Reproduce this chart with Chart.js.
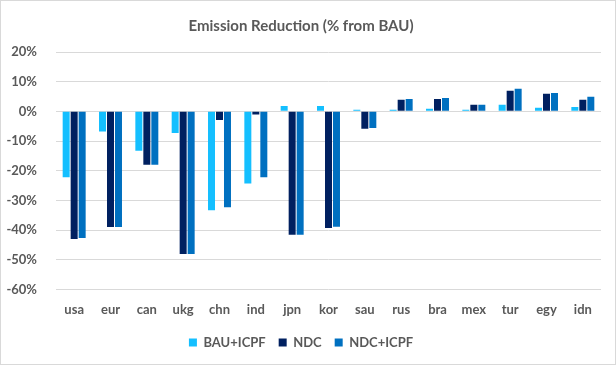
<!DOCTYPE html>
<html>
<head>
<meta charset="utf-8">
<script src="https://cdn.jsdelivr.net/npm/chart.js@4.4.1/dist/chart.umd.min.js"></script>
<style>
  body { margin: 0; background: #fff; }
  #wrap { width: 614px; height: 363px; border: 1px solid #d9d9d9; }
</style>
</head>
<body>
<div id="wrap"><canvas id="emissionChart" width="614" height="363"></canvas></div>
<script>
const countries = ['usa', 'eur', 'can', 'ukg', 'chn', 'ind', 'jpn', 'kor', 'sau', 'rus', 'bra', 'mex', 'tur', 'egy', 'idn']
const bauIcpf = [-22.2, -6.8, -13.3, -7.3, -33.3, -24.3, 1.8, 1.8, 0.5, 0.5, 0.9, 0.5, 2.2, 1.2, 1.5]
const ndc = [-43.0, -39.0, -18.0, -48.1, -2.9, -1.1, -41.6, -39.3, -5.9, 3.9, 4.2, 2.2, 6.9, 5.9, 3.9]
const ndcIcpf = [-42.7, -39.0, -18.0, -48.1, -32.3, -22.2, -41.6, -38.9, -5.6, 4.2, 4.5, 2.2, 7.6, 6.2, 4.9]

const textColor = '#595959'
const fontFamily = 'Lato, "Open Sans", sans-serif'

const chartData = {
    labels: countries,
    datasets: [{
        label: 'BAU+ICPF',
        backgroundColor: '#14bfff',
        data: bauIcpf
    }, {
        label: 'NDC',
        backgroundColor: '#002060',
        data: ndc
    }, {
        label: 'NDC+ICPF',
        backgroundColor: '#0070c0',
        data: ndcIcpf
    }]
}

const chartOptions = {
    responsive: false,
    animation: false,
    layout: {
        padding: { left: 0, right: 14, top: 0, bottom: 5 }
    },
    datasets: {
        bar: {
            categoryPercentage: 0.66,
            barPercentage: 0.875
        }
    },
    scales: {
        x: {
            grid: { display: false },
            border: { display: false },
            ticks: {
                color: textColor,
                padding: 5,
                font: { family: fontFamily, size: 13, weight: 'bold' }
            }
        },
        y: {
            min: -60,
            max: 20,
            afterFit: (scale) => { scale.width = 55 },
            grid: { color: '#d9d9d9', lineWidth: 1, drawTicks: false },
            border: { display: false },
            ticks: {
                stepSize: 10,
                color: textColor,
                padding: 19,
                font: { family: fontFamily, size: 13, weight: 'bold' },
                callback: (v) => v + '%'
            }
        }
    },
    plugins: {
        title: {
            display: true,
            text: 'Emission Reduction (% from BAU)',
            color: textColor,
            font: { family: fontFamily, size: 15, weight: 'bold' },
            padding: { top: 16, bottom: 17 }
        },
        legend: {
            position: 'bottom',
            labels: {
                color: textColor,
                boxWidth: 8,
                boxHeight: 8,
                padding: 13,
                font: { family: fontFamily, size: 13, weight: 'bold' }
            }
        },
        tooltip: { enabled: false }
    }
}

new Chart(document.getElementById('emissionChart'), {
    type: 'bar',
    data: chartData,
    options: chartOptions
})
</script>
</body>
</html>
